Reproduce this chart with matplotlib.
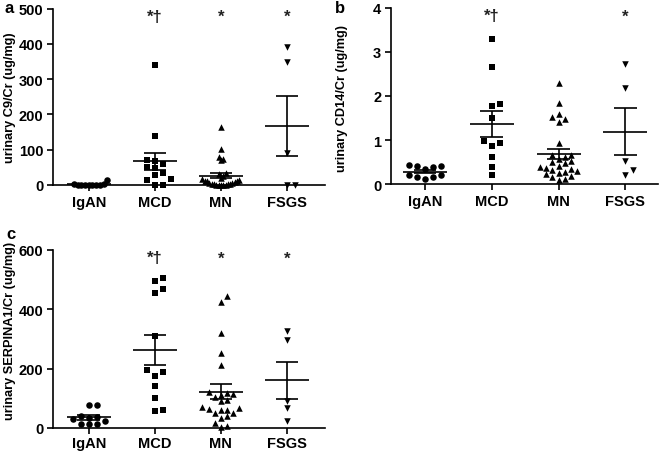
import numpy as np
import matplotlib
matplotlib.use('Agg')
import matplotlib.pyplot as plt

plt.rcParams['font.family'] = ['Liberation Sans', 'DejaVu Sans']
plt.rcParams['font.weight'] = 'bold'

groups = ['IgAN', 'MCD', 'MN', 'FSGS']
markers = ['o', 's', '^', 'v']

# panel a: urinary C9/Cr
c9_igan = [14, 2, 1, 0, 0, 1, 0, 2, 1, 0]
c9_mcd = [340, 140, 70, 68, 60, 50, 48, 34, 28, 14, 16, 1, 1]
c9_mn = [165, 103, 78, 75, 72, 35, 30, 25, 20, 18, 15, 12, 10, 10, 8, 6, 5, 4, 3, 2, 2, 1, 1, 0, 0, 0]
c9_fsgs = [392, 350, 90, 0, 0]

# panel b: urinary CD14/Cr
cd14_igan = [0.44, 0.38, 0.40, 0.42, 0.35, 0.21, 0.15, 0.12, 0.15, 0.21]
cd14_mcd = [3.30, 2.66, 1.78, 1.82, 1.51, 0.93, 0.98, 0.86, 0.62, 0.39, 0.20]
cd14_mn = [2.30, 1.83, 1.59, 1.53, 1.48, 1.42, 0.93, 0.67, 0.65, 0.62, 0.57, 0.52, 0.49,
           0.47, 0.42, 0.39, 0.37, 0.35, 0.32, 0.29, 0.27, 0.25, 0.22, 0.19, 0.15, 0.12, 0.08]
cd14_fsgs = [2.73, 2.19, 0.53, 0.31, 0.20]

# panel c: urinary SERPINA1/Cr
serp_igan = [78, 78, 40, 38, 35, 30, 22, 15, 12, 12]
serp_mcd = [505, 494, 468, 454, 311, 188, 195, 176, 143, 101, 58, 61]
serp_mn = [444, 424, 319, 252, 213, 120, 118, 115, 112, 105, 95, 90, 70, 68, 65, 62,
           60, 52, 50, 40, 35, 18, 8, 5]
serp_fsgs = [326, 297, 92, 66, 25]

panels = [
    dict(letter='a', data=[c9_igan, c9_mcd, c9_mn, c9_fsgs], ylim=500, yticks=[0, 100, 200, 300, 400, 500],
         ylabel='urinary C9/Cr (ug/mg)', stars=['', '*†', '*', '*'],
         rect=[0.0802, 0.5885, 0.411, 0.390], xlim=(-0.54, 3.57),
         labxy=(-0.136, 0.50), letxy=(-0.18, 1.005), xpad=3),
    dict(letter='b', data=[cd14_igan, cd14_mcd, cd14_mn, cd14_fsgs], ylim=4, yticks=[0, 1, 2, 3, 4],
         ylabel='urinary CD14/Cr (ug/mg)', stars=['', '*†', '', '*'],
         rect=[0.5915, 0.5907, 0.404, 0.3894], xlim=(-0.51, 3.49),
         labxy=(-0.160, 0.49), letxy=(-0.21, 1.0), xpad=3),
    dict(letter='c', data=[serp_igan, serp_mcd, serp_mn, serp_fsgs], ylim=600, yticks=[0, 200, 400, 600],
         ylabel='urinary SERPINA1/Cr (ug/mg)', stars=['', '*†', '*', '*'],
         rect=[0.0802, 0.0509, 0.411, 0.394], xlim=(-0.54, 3.57),
         labxy=(-0.136, 0.55), letxy=(-0.172, 1.09), xpad=1.5),
]

fig = plt.figure(figsize=(6.61, 4.52), dpi=100)


def swarm(vals, px_per_unit, step=0.12, diam=6.5, maxw=0.28):
    order = np.argsort(vals)
    placed = []
    offs = np.zeros(len(vals))
    for i in order:
        y = vals[i] * px_per_unit
        k = 0
        while True:
            cand = [0] if k == 0 else [k, -k]
            ok = None
            for c in cand:
                if all(not (pc == c and abs(py - y) < diam) for pc, py in placed):
                    ok = c
                    break
            if ok is not None:
                break
            k += 1
        placed.append((ok, y))
        offs[i] = ok * step
    m = np.abs(offs).max()
    if m > maxw:
        offs = offs * maxw / m
    return offs


for p in panels:
    ax = fig.add_axes(p['rect'])
    ax.set_xlim(*p['xlim'])
    ax.set_ylim(0, p['ylim'])
    hpx = p['rect'][3] * fig.get_figheight() * fig.dpi
    ppu = hpx / p['ylim']
    for i, (vals, mk) in enumerate(zip(p['data'], markers)):
        vals = np.array(vals, dtype=float)
        offs = swarm(vals, ppu)
        ax.scatter(i + offs, vals, marker=mk, s=22, color='black', linewidths=0, zorder=3, clip_on=False)
        mean = vals.mean()
        sem = vals.std(ddof=1) / np.sqrt(len(vals))
        ax.hlines(mean, i - 0.33, i + 0.33, color='black', lw=1.2, zorder=4)
        ax.hlines([mean - sem, mean + sem], i - 0.17, i + 0.17, color='black', lw=1.2, zorder=4)
        ax.vlines(i, mean - sem, mean + sem, color='black', lw=1.2, zorder=4)
        if p['stars'][i]:
            ax.text(i, 0.955, p['stars'][i], transform=ax.get_xaxis_transform(),
                    ha='center', va='center', fontsize=12, fontweight='bold', color='#222222')
    ax.set_xticks(range(len(groups)))
    ax.set_xticklabels(groups, fontsize=10.5, fontweight='bold')
    ax.set_yticks(p['yticks'])
    ax.set_yticklabels([str(t) for t in p['yticks']], fontsize=10.5, fontweight='bold')
    ax.set_ylabel(p['ylabel'], fontsize=9.2, fontweight='bold')
    ax.yaxis.set_label_coords(*p['labxy'])
    for s in ['top', 'right']:
        ax.spines[s].set_visible(False)
    for s in ['left', 'bottom']:
        ax.spines[s].set_linewidth(1.2)
    ax.tick_params(direction='out', width=1.2, length=4, pad=3)
    ax.tick_params(axis='x', pad=p['xpad'])
    ax.text(p['letxy'][0], p['letxy'][1], p['letter'], transform=ax.transAxes, fontsize=12,
            fontweight='bold', ha='left', va='center')

fig.savefig('out.png', dpi=100)
